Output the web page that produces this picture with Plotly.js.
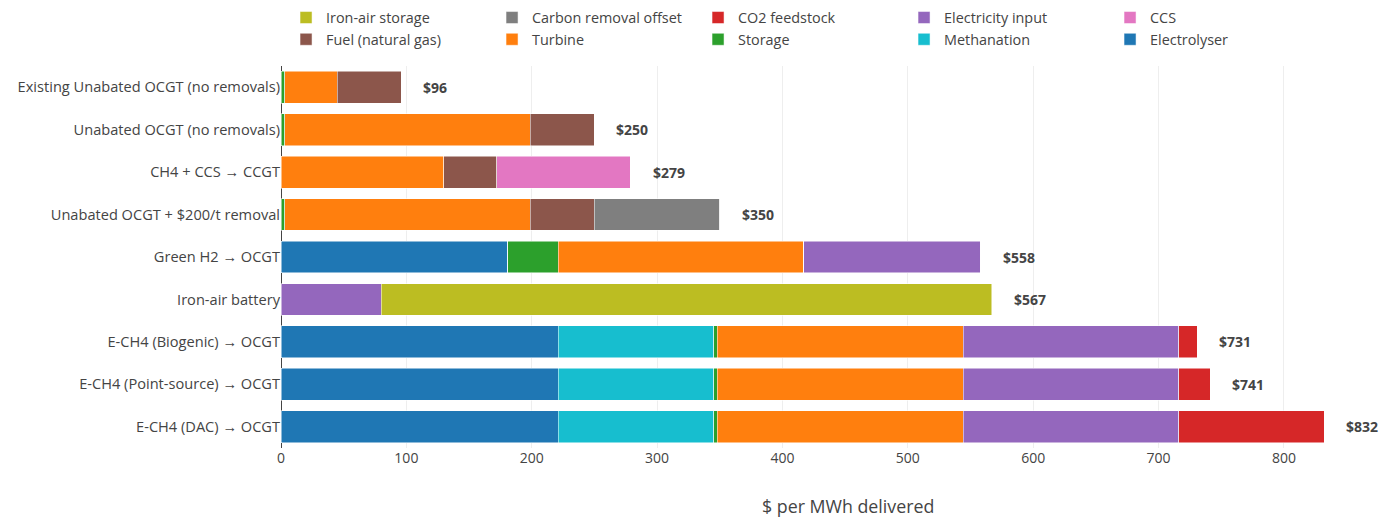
<!DOCTYPE html>
<html>
<head>
<meta charset="utf-8">
<script src="https://cdn.plot.ly/plotly-3.0.1.min.js"></script>
<style>html,body{margin:0;padding:0;background:#fff;}#chart{width:1386px;height:517px;}</style>
</head>
<body>
<div id="chart"></div>
<script>
const categories = [
  "Existing Unabated OCGT (no removals)",
  "Unabated OCGT (no removals)",
  "CH4 + CCS → CCGT",
  "Unabated OCGT + $200/t removal",
  "Green H2 → OCGT",
  "Iron-air battery",
  "E-CH4 (Biogenic) → OCGT",
  "E-CH4 (Point-source) → OCGT",
  "E-CH4 (DAC) → OCGT"
];
const electrolyser   = [0, 0, 0, 0, 181, 0, 221, 221, 221];
const methanation    = [0, 0, 0, 0, 0, 0, 124, 124, 124];
const storage        = [3, 3, 0, 3, 40, 0, 3, 3, 3];
const turbine        = [42, 196, 130, 196, 196, 0, 196, 196, 196];
const fuel           = [51, 51, 42, 51, 0, 0, 0, 0, 0];
const ccs            = [0, 0, 107, 0, 0, 0, 0, 0, 0];
const electricity    = [0, 0, 0, 0, 141, 80, 172, 172, 172];
const co2            = [0, 0, 0, 0, 0, 0, 15, 25, 116];
const carbonRemoval  = [0, 0, 0, 100, 0, 0, 0, 0, 0];
const ironAir        = [0, 0, 0, 0, 0, 487, 0, 0, 0];
const totalLabels    = ["$96", "$250", "$279", "$350", "$558", "$567", "$731", "$741", "$832"];
const xTitle         = "$ per MWh delivered";

const seriesNames  = ["Electrolyser", "Methanation", "Storage", "Turbine", "Fuel (natural gas)", "CCS", "Electricity input", "CO2 feedstock", "Carbon removal offset", "Iron-air storage"];
const seriesValues = [electrolyser, methanation, storage, turbine, fuel, ccs, electricity, co2, carbonRemoval, ironAir];
const seriesColors = ["#1f77b4", "#17becf", "#2ca02c", "#ff7f0e", "#8c564b", "#e377c2", "#9467bd", "#d62728", "#7f7f7f", "#bcbd22"];
const legendRanks  = [10, 9, 8, 7, 6, 5, 4, 3, 2, 1];

const data = seriesNames.map((n, i) => ({
  type: "bar",
  orientation: "h",
  name: n,
  y: categories,
  x: seriesValues[i],
  legendrank: legendRanks[i],
  marker: {color: seriesColors[i], line: {color: "white", width: 0.5}},
  hoverinfo: "name+x"
}));

const totals = categories.map((c, j) => seriesValues.reduce((s, arr) => s + arr[j], 0));

const annotations = categories.map((c, j) => ({
  x: totals[j], y: c, xref: "x", yref: "y",
  text: "<b>" + totalLabels[j] + "</b>",
  showarrow: false, xanchor: "left", xshift: 20,
  font: {size: 14, color: "#444"}
}));
annotations.push({
  x: 0.5169, y: -0.152, xref: "paper", yref: "paper",
  xanchor: "center", yanchor: "middle", showarrow: false,
  text: xTitle, font: {size: 17.8, color: "#444"}
});

const layout = {
  width: 1386, height: 517,
  margin: {l: 281, r: 8, t: 66, b: 69, autoexpand: false},
  paper_bgcolor: "white", plot_bgcolor: "white",
  font: {family: "'Open Sans', verdana, arial, sans-serif", size: 14, color: "#444"},
  barmode: "stack",
  bargap: 0.25,
  showlegend: true,
  legend: {orientation: "h", traceorder: "normal", x: 0.0046, xanchor: "left", y: 1.027, yanchor: "bottom",
           entrywidth: 161, entrywidthmode: "pixels", font: {size: 14.4}},
  xaxis: {
    range: [0, 875],
    showgrid: true, gridcolor: "#eee",
    zeroline: true, zerolinecolor: "#444", zerolinewidth: 1,
    tickfont: {size: 14},
    automargin: false
  },
  yaxis: {
    autorange: "reversed",
    type: "category",
    showgrid: false,
    tickfont: {size: 14.6},
    automargin: false
  },
  annotations: annotations
};

Plotly.newPlot("chart", data, layout, {displayModeBar: false});
</script>
</body>
</html>
